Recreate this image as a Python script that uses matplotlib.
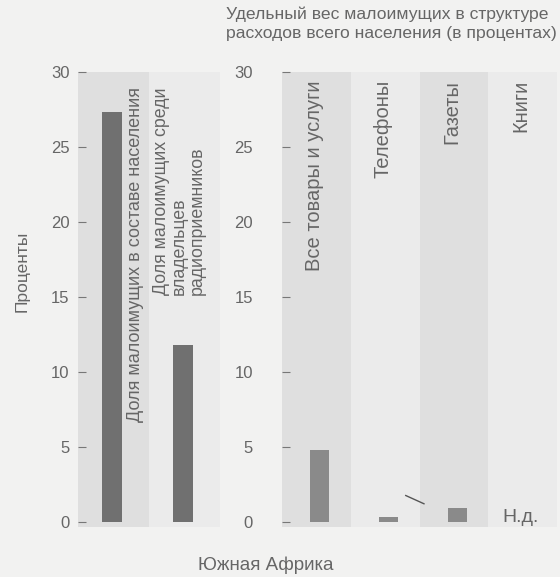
#Two-panel bar chart: poverty share vs. spending share (South Africa)
import matplotlib.pyplot as plt
import numpy as np

#left panel data
left_labels = ["Доля малоимущих в составе населения",
               "Доля малоимущих среди\nвладельцев\nрадиоприемников"]
left_values = [27.3, 11.8]

#right panel data (Книги - no data)
right_labels = ["Все товары и услуги", "Телефоны", "Газеты", "Книги"]
right_values = [4.8, 0.3, 0.9, 0.0]
no_data = "Н.д."

title = "Удельный вес малоимущих в структуре\nрасходов всего населения (в процентах)"
ylabel = "Проценты"
xlabel = "Южная Африка"
yticks = [0, 5, 10, 15, 20, 25, 30]

bg = "#f2f2f1"
dark_stripe = "#dfdfdf"
light_stripe = "#ebebeb"
txt = "#666666"

plt.rcParams['font.family'] = ['Liberation Sans', 'DejaVu Sans']

fig = plt.figure(figsize=(5.6, 5.77), dpi=100, facecolor=bg)

bottom = 1 - 527 / 577
height = (527 - 72) / 577
ax1 = fig.add_axes([78 / 560, bottom, (220 - 78) / 560, height])
ax2 = fig.add_axes([282 / 560, bottom, (557 - 282) / 560, height])


def style_axes(ax, n, pad):
    ax.set_facecolor(bg)
    ax.set_xlim(-0.5, n - 0.5)
    ax.set_ylim(-0.35, 30)
    for s in ax.spines.values():
        s.set_visible(False)
    ax.set_xticks([])
    ax.set_yticks(yticks)
    ax.tick_params(axis='y', direction='in', length=6, width=0.8,
                   color="#777777", labelcolor=txt, labelsize=12, pad=pad)
    #background stripes, alternating shade
    x = np.arange(n)
    shades = [dark_stripe if i % 2 == 0 else light_stripe for i in x]
    ax.bar(x, [30.35] * n, bottom=-0.35, width=1.0, color=shades, zorder=0)


style_axes(ax1, len(left_values), 6)
style_axes(ax2, len(right_values), 21)

#left panel bars and labels
x1 = np.arange(len(left_values))
ax1.bar(x1 - 0.02, left_values, width=0.28, bottom=0, color="#707070", zorder=2)
ax1.text(x1[0] + 0.31, 29.0, left_labels[0], rotation=90, ha='center', va='top',
         fontsize=13, color=txt)
ax1.text(x1[1] - 0.07, 15.1, left_labels[1], rotation=90, ha='center', va='bottom',
         multialignment='left', fontsize=12.8, color=txt, linespacing=1.05)

#right panel bars and labels
x2 = np.arange(len(right_values))
has_data = np.array([True, True, True, False])
ax2.bar(x2[has_data] + 0.05, np.array(right_values)[has_data], width=0.28,
        color="#8a8a8a", zorder=2)
for xi, lab in zip(x2, right_labels):
    ax2.text(xi - 0.03, 29.45, lab, rotation=90, ha='center', va='top',
             fontsize=14.5, color=txt)
ax2.text(x2[3] - 0.03, 0.3, no_data, ha='center', va='center', fontsize=14, color=txt)
#leader line pointing to the tiny Телефоны bar
ax2.plot([1.30, 1.565], [1.75, 1.2], color="#555555", lw=1, zorder=3)

fig.text(226 / 560, 1 - 7 / 577, title, ha='left', va='top', fontsize=12.6,
         color=txt, linespacing=1.3)
fig.text(22 / 560, 1 - 271 / 577, ylabel, rotation=90, ha='center', va='center',
         fontsize=12.5, color=txt)
fig.text(266 / 560, 1 - 565 / 577, xlabel, ha='center', va='center',
         fontsize=13.5, color=txt)

fig.savefig("out.png", dpi=100, facecolor=bg)
